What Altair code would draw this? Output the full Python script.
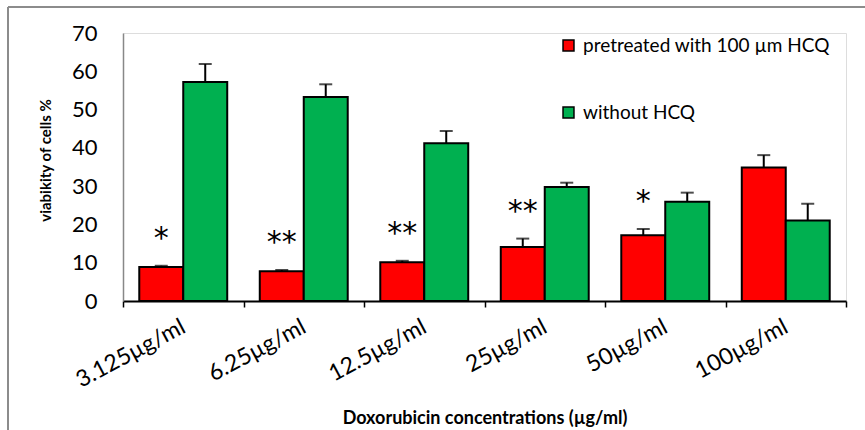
import altair as alt
import pandas as pd

categories = ["3.125µg/ml", "6.25µg/ml", "12.5µg/ml", "25µg/ml", "50µg/ml", "100µg/ml"]
series = ["pretreated with 100 µm HCQ", "without HCQ"]
pretreated = [8.9, 7.8, 10.1, 14.1, 17.2, 34.9]
pretreated_err = [0.3, 0.3, 0.4, 2.2, 1.6, 3.2]
without = [57.2, 53.3, 41.2, 29.8, 25.9, 21.0]
without_err = [4.7, 3.3, 3.2, 1.1, 2.4, 4.4]
stars = ["*", "**", "**", "**", "*", ""]
y_ticks = [0, 10, 20, 30, 40, 50, 60, 70]

rows = []
for i, c in enumerate(categories):
    rows.append({"cat": c, "series": series[0], "value": pretreated[i],
                 "hi": pretreated[i] + pretreated_err[i], "star": stars[i]})
    rows.append({"cat": c, "series": series[1], "value": without[i],
                 "hi": without[i] + without_err[i], "star": ""})
df = pd.DataFrame(rows)

FONT = "Lato"
Y_TITLE = "viabikity of cells %"
X_TITLE = "Doxorubicin concentrations (µg/ml)"

yscale = alt.Scale(domain=[0, 70], nice=False)
yaxis = alt.Axis(values=y_ticks, title=Y_TITLE, titleFontSize=15, titleFont=FONT,
                 titleFontWeight="bold", titleColor="#000", titleAngle=270,
                 titleX=-78, titleY=127, titleAlign="center", titleBaseline="middle")

x = alt.X("cat:N", sort=categories, title=X_TITLE,
          scale=alt.Scale(paddingInner=0, paddingOuter=0))
xo = alt.XOffset("series:N", sort=series,
                 scale=alt.Scale(paddingInner=0, paddingOuter=0.37))

color = alt.Color("series:N", sort=series,
                  scale=alt.Scale(domain=series, range=["#ff0000", "#00b050"]),
                  legend=alt.Legend(title=None, orient="none", legendX=436, legendY=3))

base = alt.Chart(df)

bars = base.mark_bar(stroke="#000", strokeWidth=2, opacity=1).encode(
    x=x, xOffset=xo, y=alt.Y("value:Q", scale=yscale, axis=yaxis), color=color)

err = base.mark_rule(color="#000", strokeWidth=2).encode(
    x=x, xOffset=xo,
    y=alt.Y("value:Q", scale=yscale, axis=yaxis), y2="hi:Q")

caps = base.mark_tick(color="#000", thickness=2, size=13, orient="horizontal").encode(
    x=x, xOffset=xo, y=alt.Y("hi:Q", scale=yscale, axis=yaxis))

star_txt = base.transform_filter(alt.datum.star != "").mark_text(
    fontSize=30, font="DejaVu Sans", color="#000", dy=-12, baseline="bottom").encode(
    x=x, xOffset=xo, y=alt.Y("hi:Q", scale=yscale, axis=yaxis), text="star:N")

frame_left = alt.Chart(pd.DataFrame({"k": [0]})).mark_rule(color="#8c8c8c", strokeWidth=2).encode(
    x=alt.value(-115), y=alt.value(-26), y2=alt.value(400))
frame_top = alt.Chart(pd.DataFrame({"k": [0]})).mark_rule(color="#8c8c8c", strokeWidth=2).encode(
    x=alt.value(-115), x2=alt.value(745), y=alt.value(-26))

chart = alt.layer(bars, err, caps, star_txt, frame_left, frame_top).properties(
    width=723, height=268,
    padding={"left": 123, "top": 33, "right": 19, "bottom": 129},
    autosize=alt.AutoSizeParams(type="none"),
).configure_view(stroke=None).configure(background="white").configure_axisX(
    labelAngle=332, labelFontSize=23, labelFont=FONT, labelColor="#000",
    labelAlign="right", labelBaseline="middle", labelPadding=18, labelLimit=300,
    tickBand="extent", tickSize=6, tickColor="#000", tickWidth=1.5,
    domainColor="#000", domainWidth=2,
    titleFontSize=18, titleFont=FONT, titleFontWeight="bold",
    titleColor="#000", titlePadding=18,
).configure_axisY(
    grid=False, ticks=False, labelOverlap=False,
    labelFontSize=22, labelFont=FONT, labelColor="#000", labelPadding=26,
    domainColor="#888", domainWidth=1.5,
).configure_legend(
    symbolType="square", symbolSize=120,
    symbolStrokeColor="#000", symbolStrokeWidth=1.5,
    labelFontSize=19, labelFont=FONT, labelColor="#000", labelLimit=400,
    rowPadding=47, labelOffset=5,
)

chart.save("out.html", embed_options={"renderer": "svg", "actions": False})
